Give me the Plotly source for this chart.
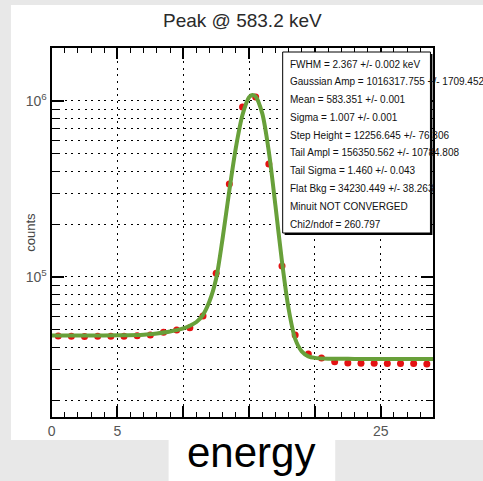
import plotly.graph_objects as go

W, H = 483, 481

# Histogram contents (bin centres and counts)
bin_centers = [0.5, 1.5, 2.5, 3.5, 4.5, 5.5, 6.5, 7.5, 8.5, 9.5,
               10.5, 11.5, 12.5, 13.5, 14.5, 15.5, 16.5, 17.5, 18.5, 19.5,
               20.5, 21.5, 22.5, 23.5, 24.5, 25.5, 26.5, 27.5, 28.5]
counts = [46200, 46000, 45900, 46000, 46100, 46000, 46300, 46800, 48600, 50000,
          51400, 60000, 105000, 337000, 925000, 1055000, 438000, 115500, 46800, 36500,
          34700, 33000, 32500, 32300, 32300, 32200, 32200, 32200, 32000]

# Fitted peak shape, sampled along the energy axis
fit_x = [0, 3, 5, 7, 8, 9, 10, 10.5, 11, 11.5, 12, 12.5, 13, 13.5, 14, 14.5,
         15, 15.25, 15.5, 16, 16.5, 17, 17.5, 18, 18.5, 19, 19.5, 20, 21, 23, 26, 29]
fit_y = [46500, 46500, 46600, 47000, 47800, 49000, 51000, 52800, 55500, 61000,
         73000, 98000, 168000, 310000, 545000, 835000, 1050000, 1082000, 1060000,
         850000, 515000, 255000, 122000, 66000, 44500, 37800, 35400, 34700,
         34350, 34250, 34230, 34230]

x_ticks = [0, 5, 10, 15, 20, 25]
x_tick_text = ["0", "5", "", "", "", "25"]
y_ticks = [1e5, 1e6]
y_tick_text = ["10<sup>5</sup>", "10<sup>6</sup>"]
y_minor = [2e4, 3e4, 4e4, 5e4, 6e4, 7e4, 8e4, 9e4,
           2e5, 3e5, 4e5, 5e5, 6e5, 7e5, 8e5, 9e5, 2e6]

title_text = "Peak @ 583.2 keV"
x_title = "energy"
y_title = "counts"
stats_lines = [
    "FWHM = 2.367 +/- 0.002 keV",
    "Gaussian Amp = 1016317.755 +/- 1709.452",
    "Mean = 583.351 +/- 0.001",
    "Sigma = 1.007 +/- 0.001",
    "Step Height = 12256.645 +/- 76.306",
    "Tail Ampl = 156350.562 +/- 10784.808",
    "Tail Sigma = 1.460 +/- 0.043",
    "Flat Bkg = 34230.449 +/- 38.263",
    "Minuit NOT CONVERGED",
    "Chi2/ndof = 260.797",
]

FONT = "Liberation Sans, Arial, sans-serif"


def px(x):
    return x / W


def py(y):
    return 1 - y / H


fig = go.Figure()
fig.add_trace(go.Scatter(
    x=bin_centers, y=counts, mode="markers",
    marker=dict(color="rgb(228,18,18)", size=7, line=dict(width=0)),
    showlegend=False,
))
fig.add_trace(go.Scatter(
    x=fit_x, y=fit_y, mode="lines",
    line=dict(color="rgb(104,160,58)", width=4, shape="spline", smoothing=0.8),
    showlegend=False,
))

grid_dash = "2px,4.6px"
fig.update_xaxes(
    domain=[px(48), px(433)], range=[0, 29],
    tickvals=x_ticks, ticktext=x_tick_text,
    ticks="inside", ticklen=11, tickwidth=1.5, tickcolor="black",
    showline=True, linecolor="black", linewidth=2, mirror="allticks",
    showgrid=True, gridcolor="black", gridwidth=1, griddash=grid_dash,
    zeroline=False,
    tickfont=dict(family=FONT, size=14, color="#555"),
    minor=dict(dtick=1, ticks="inside", ticklen=5, tickwidth=1.2,
               tickcolor="black", showgrid=False),
)
fig.update_yaxes(
    type="log", domain=[py(417), py(48)], range=[4.2045, 6.301],
    tickvals=y_ticks, ticktext=y_tick_text,
    ticks="inside", ticklen=12, tickwidth=1.5, tickcolor="black",
    showline=True, linecolor="black", linewidth=2, mirror="allticks",
    showgrid=True, gridcolor="black", gridwidth=1, griddash=grid_dash,
    zeroline=False,
    tickfont=dict(family=FONT, size=14, color="#555"),
    minor=dict(tickvals=y_minor, ticks="inside", ticklen=7, tickwidth=1.2,
               tickcolor="black", showgrid=True, gridcolor="black",
               gridwidth=1, griddash=grid_dash),
)

shapes = [
    # canvas and label backgrounds
    dict(type="rect", xref="paper", yref="paper", x0=px(7), x1=px(483),
         y0=py(440), y1=py(5), fillcolor="white", line=dict(width=0), layer="below"),
    dict(type="rect", xref="paper", yref="paper", x0=px(166), x1=px(334),
         y0=py(481), y1=py(440), fillcolor="white", line=dict(width=0), layer="below"),
    # statistics box with shadow
    dict(type="rect", xref="paper", yref="paper", x0=px(283), x1=px(432),
         y0=py(235), y1=py(54), fillcolor="black", line=dict(width=0), layer="above"),
    dict(type="rect", xref="paper", yref="paper", x0=px(281), x1=px(430),
         y0=py(233), y1=py(52), fillcolor="white",
         line=dict(color="black", width=1), layer="above"),
]

annotations = [
    dict(text=title_text, x=px(240), y=py(20), xref="paper", yref="paper",
         showarrow=False, xanchor="center", yanchor="middle",
         font=dict(family=FONT, size=19, color="#2a2a2a")),
    dict(text=y_title, x=px(26), y=py(232), xref="paper", yref="paper",
         showarrow=False, xanchor="center", yanchor="middle", textangle=-90,
         font=dict(family=FONT, size=13, color="#444")),
    dict(text=x_title, x=px(249), y=py(452), xref="paper", yref="paper",
         showarrow=False, xanchor="center", yanchor="middle",
         font=dict(family=FONT, size=42, color="black")),
]
for i, line in enumerate(stats_lines):
    annotations.append(dict(
        text=line, x=px(286), y=py(64 + i * 17.8), xref="paper", yref="paper",
        showarrow=False, xanchor="left", yanchor="middle",
        font=dict(family=FONT, size=10, color="#111"),
    ))

fig.update_layout(
    width=W, height=H, margin=dict(l=0, r=0, t=0, b=0),
    paper_bgcolor="#e8e8e8", plot_bgcolor="white",
    shapes=shapes, annotations=annotations, showlegend=False,
)

fig.write_html("out.html")
